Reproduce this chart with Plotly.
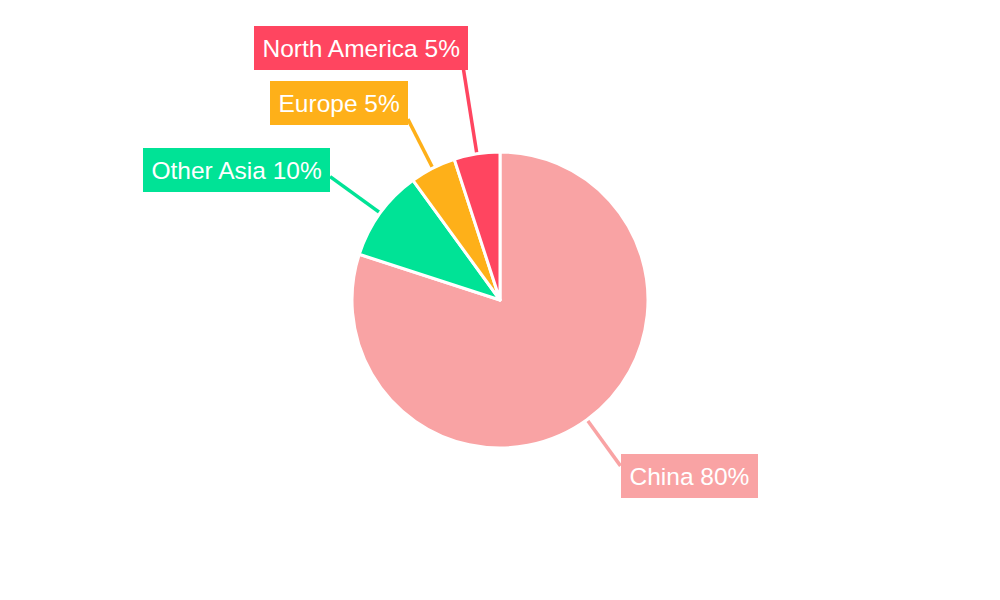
import math
import plotly.graph_objects as go

# ---- data ----
regions = ["China", "Other Asia", "Europe", "North America"]
shares = [80, 10, 5, 5]
colors = ["#F9A3A4", "#00E396", "#FEB019", "#FF4560"]

# ---- layout constants ----
W, H = 1000, 600
OFF = 8                      # page body margin compensation
CX, CY, R = 500 - OFF, 300 - OFF, 148
label_len = [205, 210, 203, 235]   # leader line outer radius
label_dx = [0, 0, 0, 5]
label_dy = [10, -7, -16, -20]

fig = go.Figure()

fig.add_trace(go.Pie(
    labels=regions, values=shares, sort=False, direction="clockwise", rotation=0,
    marker=dict(colors=colors, line=dict(color="white", width=3)),
    textinfo="none", hoverinfo="label+percent", showlegend=False,
    domain=dict(x=[(CX - R) / W, (CX + R) / W], y=[(H - CY - R) / H, (H - CY + R) / H]),
))

total = sum(shares)
cum = 0
annotations = []
for i, (name, v, c) in enumerate(zip(regions, shares, colors)):
    mid = (cum + v / 2) / total * 2 * math.pi
    cum += v
    s, co = math.sin(mid), math.cos(mid)
    x0, y0 = CX + (R + 1) * s, CY - (R + 1) * co
    x1, y1 = CX + label_len[i] * s, CY - label_len[i] * co
    fig.add_trace(go.Scatter(x=[x0, x1], y=[y0, y1], mode="lines",
                             line=dict(color=c, width=3.5), hoverinfo="skip",
                             showlegend=False))
    right = s > 0
    annotations.append(dict(
        x=x1 + label_dx[i], y=y1 + label_dy[i], xref="x", yref="y",
        xanchor="left" if right else "right", yanchor="middle",
        text=f"{name} {round(v / total * 100)}%", showarrow=False,
        bgcolor=c, borderpad=8.5, borderwidth=0,
        font=dict(family="Liberation Sans, Arial", size=24.5, color="white"),
    ))

fig.update_layout(
    width=W, height=H, margin=dict(l=0, r=0, t=0, b=0),
    paper_bgcolor="white", plot_bgcolor="white",
    xaxis=dict(range=[0, W], visible=False, fixedrange=True),
    yaxis=dict(range=[H, 0], visible=False, fixedrange=True),
    annotations=annotations,
)

fig.write_html("out.html")
